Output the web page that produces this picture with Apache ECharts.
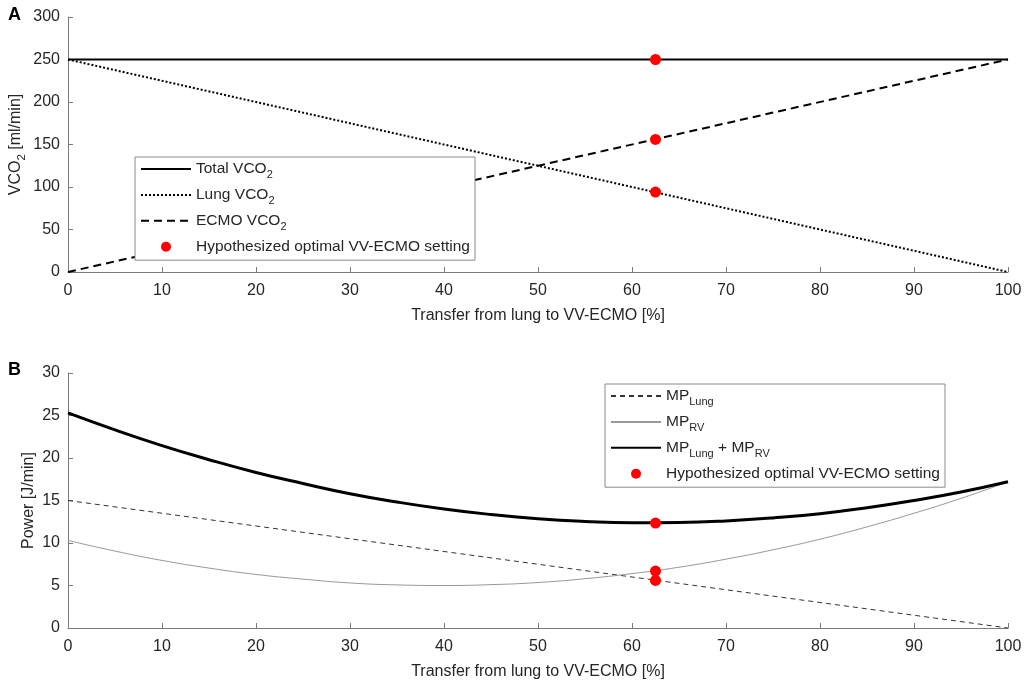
<!DOCTYPE html>
<html>
<head>
<meta charset="utf-8">
<script src="https://cdn.jsdelivr.net/npm/echarts@6/dist/echarts.min.js"></script>
<style>
  html, body { margin: 0; padding: 0; background: #fff; }
  #chart { width: 1024px; height: 682px; }
</style>
</head>
<body>
<div id="chart"></div>
<script>
// panel A: CO2 removal split between lung and VV-ECMO
var xA = [0, 100];
var totalVCO2 = [250, 250];
var lungVCO2 = [250, 0];
var ecmoVCO2 = [0, 250];
var optimalX = 62.5;
var optimalA = [250, 156, 94];

var xB = [0, 5, 10, 15, 20, 25, 30, 35, 40, 45, 50, 55, 60, 65, 70, 75, 80, 85, 90, 95, 100];
var mpLung = [15, 14.25, 13.5, 12.75, 12, 11.25, 10.5, 9.75, 9, 8.25, 7.5, 6.75, 6, 5.25, 4.5, 3.75, 3, 2.25, 1.5, 0.75, 0];
var mpRV = [10.3, 9.05, 7.95, 7.05, 6.3, 5.75, 5.3, 5.07, 5.0, 5.1, 5.35, 5.8, 6.4, 7.15, 8.1, 9.2, 10.45, 11.9, 13.5, 15.25, 17.2];
var mpSum = [25.3, 23.3, 21.45, 19.8, 18.3, 17.0, 15.8, 14.82, 14.0, 13.35, 12.85, 12.53, 12.37, 12.41, 12.6, 12.95, 13.45, 14.15, 15.0, 16.0, 17.2];
var optimalB = [12.35, 6.7, 5.6];

var yTicksA = { min: 0, max: 300, interval: 50 };
var yTicksB = { min: 0, max: 30, interval: 5 };
var xTicks = { min: 0, max: 100, interval: 10 };

var OPT = 'Hypothesized optimal VV-ECMO setting';

function pairs(xs, ys) {
  return xs.map(function (x, i) { return [x, ys[i]]; });
}
function dots(ys) {
  return ys.map(function (y) { return [optimalX, y]; });
}

var font = 'Liberation Sans, Arial, Helvetica, sans-serif';
var axisGray = '#7a7a7a';
var labelColor = '#262626';

// subscripts: the small token sits on a taller line, pinned to its bottom
var sub = {
  n: { fontSize: 15.5, fontFamily: font, color: labelColor, lineHeight: 18, verticalAlign: 'middle' },
  s: { fontSize: 11, fontFamily: font, color: labelColor, lineHeight: 23, verticalAlign: 'bottom' }
};
var subAxis = {
  n: { fontSize: 16, fontFamily: font, color: labelColor, lineHeight: 18, verticalAlign: 'middle' },
  s: { fontSize: 11.5, fontFamily: font, color: labelColor, lineHeight: 24, verticalAlign: 'bottom' }
};

var legendText = {
  'Total VCO2': '{n|Total VCO}{s|2}',
  'Lung VCO2': '{n|Lung VCO}{s|2}',
  'ECMO VCO2': '{n|ECMO VCO}{s|2}',
  'MP Lung': '{n|MP}{s|Lung}',
  'MP RV': '{n|MP}{s|RV}',
  'MP Lung + MP RV': '{n|MP}{s|Lung}{n| + MP}{s|RV}'
};
legendText[OPT] = '{n|' + OPT + '}{s| }';

function xAxisCfg(grid) {
  return {
    type: 'value', gridIndex: grid,
    min: xTicks.min, max: xTicks.max, interval: xTicks.interval,
    name: 'Transfer from lung to VV-ECMO [%]',
    nameLocation: 'middle', nameGap: 36,
    nameTextStyle: { fontSize: 16, fontFamily: font, color: labelColor },
    axisLine: { onZero: false, lineStyle: { color: axisGray, width: 1 } },
    axisTick: { inside: true, length: 5, lineStyle: { color: axisGray } },
    axisLabel: { margin: 11, fontSize: 16, fontFamily: font, color: labelColor },
    splitLine: { show: false }
  };
}
function yAxisCfg(grid, ticks, name, gap) {
  return {
    type: 'value', gridIndex: grid,
    min: ticks.min, max: ticks.max, interval: ticks.interval,
    name: name, nameLocation: 'middle', nameGap: gap, nameMoveOverlap: false,
    nameTextStyle: { fontSize: 16, fontFamily: font, color: labelColor, rich: subAxis },
    axisLine: { show: true, lineStyle: { color: axisGray, width: 1 } },
    axisTick: { show: true, inside: true, length: 5, lineStyle: { color: axisGray } },
    axisLabel: { margin: 8, fontSize: 16, fontFamily: font, color: labelColor },
    splitLine: { show: false }
  };
}
// line entries get an invisible marker so only the line sample shows
function legendCfg(left, top, lineNames) {
  var items = lineNames.map(function (n) {
    return { name: n, itemStyle: { opacity: 0 } };
  });
  items.push({ name: OPT });
  return {
    orient: 'vertical', left: left, top: top,
    data: items,
    itemWidth: 50, itemHeight: 10, itemGap: 6.4,
    padding: [4, 2, 2, 5],
    backgroundColor: '#fff', borderColor: '#8a8a8a', borderWidth: 1, borderRadius: 0,
    selectedMode: false,
    textStyle: { fontSize: 15.5, fontFamily: font, color: labelColor, rich: sub },
    formatter: function (name) { return legendText[name]; }
  };
}

var chart = echarts.init(document.getElementById('chart'), null, { renderer: 'canvas' });
chart.setOption({
  animation: false,
  backgroundColor: '#fff',
  title: [
    { text: 'A', left: 3, top: 1, textStyle: { fontSize: 18, fontWeight: 'bold', fontFamily: font, color: '#000' } },
    { text: 'B', left: 3, top: 356, textStyle: { fontSize: 18, fontWeight: 'bold', fontFamily: font, color: '#000' } }
  ],
  grid: [
    { left: 68, top: 17, width: 940, height: 255, outerBoundsMode: 'none' },
    { left: 68, top: 373, width: 940, height: 255, outerBoundsMode: 'none' }
  ],
  xAxis: [xAxisCfg(0), xAxisCfg(1)],
  yAxis: [
    yAxisCfg(0, yTicksA, '{n|VCO}{s|2}{n| [ml/min]}', 40),
    yAxisCfg(1, yTicksB, '{n|Power [J/min]}', 30)
  ],
  legend: [
    legendCfg(135, 157, ['Total VCO2', 'Lung VCO2', 'ECMO VCO2']),
    legendCfg(605, 384, ['MP Lung', 'MP RV', 'MP Lung + MP RV'])
  ],
  series: [
    { name: 'Total VCO2', type: 'line', xAxisIndex: 0, yAxisIndex: 0, symbol: 'none',
      lineStyle: { color: '#000', width: 2 }, itemStyle: { color: '#000' },
      data: pairs(xA, totalVCO2) },
    { name: 'Lung VCO2', type: 'line', xAxisIndex: 0, yAxisIndex: 0, symbol: 'none',
      lineStyle: { color: '#000', width: 2, type: [2, 2] }, itemStyle: { color: '#000' },
      data: pairs(xA, lungVCO2) },
    { name: 'ECMO VCO2', type: 'line', xAxisIndex: 0, yAxisIndex: 0, symbol: 'none',
      lineStyle: { color: '#000', width: 2, type: [8, 5] }, itemStyle: { color: '#000' },
      data: pairs(xA, ecmoVCO2) },
    { name: OPT, type: 'scatter', xAxisIndex: 0, yAxisIndex: 0, symbolSize: 11, z: 5,
      itemStyle: { color: '#ff0000', opacity: 1 }, data: dots(optimalA) },

    { name: 'MP Lung', type: 'line', xAxisIndex: 1, yAxisIndex: 1, symbol: 'none',
      lineStyle: { color: '#333', width: 1, type: [5, 4] }, itemStyle: { color: '#333' },
      data: pairs(xB, mpLung) },
    { name: 'MP RV', type: 'line', xAxisIndex: 1, yAxisIndex: 1, symbol: 'none', smooth: true,
      lineStyle: { color: '#999', width: 1 }, itemStyle: { color: '#999' },
      data: pairs(xB, mpRV) },
    { name: 'MP Lung + MP RV', type: 'line', xAxisIndex: 1, yAxisIndex: 1, symbol: 'none', smooth: true,
      lineStyle: { color: '#000', width: 3 }, itemStyle: { color: '#000' },
      data: pairs(xB, mpSum) },
    { name: OPT, type: 'scatter', xAxisIndex: 1, yAxisIndex: 1, symbolSize: 11, z: 5,
      itemStyle: { color: '#ff0000', opacity: 1 }, data: dots(optimalB) }
  ]
});
</script>
</body>
</html>
